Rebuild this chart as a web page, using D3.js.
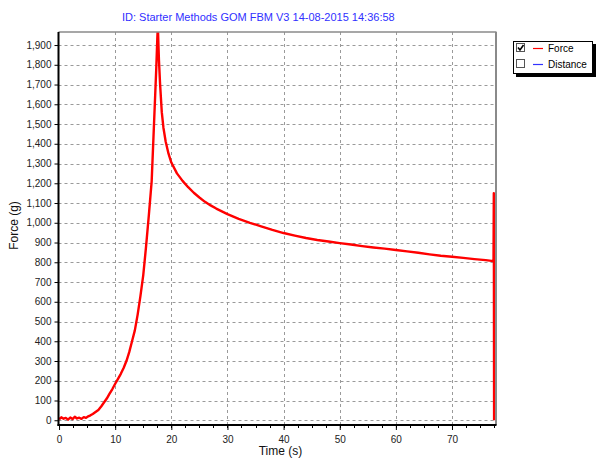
<!DOCTYPE html>
<html><head><meta charset="utf-8">
<script src="https://cdn.jsdelivr.net/npm/d3@7/dist/d3.min.js"></script>
<style>body{margin:0;background:#fff}svg{display:block;font-family:"Liberation Sans",Arial,sans-serif}</style>
</head><body><svg id="c" width="613" height="470"></svg>
<script>
const title = "ID: Starter Methods GOM FBM V3 14-08-2015 14:36:58";
const xLabel = "Time (s)";
const yLabel = "Force (g)";
const xTicks = [0,10,20,30,40,50,60,70];
const yTicks = [0,100,200,300,400,500,600,700,800,900,1000,1100,1200,1300,1400,1500,1600,1700,1800,1900];
const legendNames = ["Force","Distance"];
const legendColors = ["#ff0000","#3333ff"];
const legendChecked = [true,false];
const time = [0,0.4,0.8,1.2,1.6,2.0,2.4,2.8,3.2,3.6,4.0,4.4,4.8,5.2,5.6,6.0,6.5,7.0,7.5,8.0,8.5,9.0,9.5,10,10.5,11,11.5,12,12.5,13,13.5,14,14.5,15,15.5,16,16.5,17,17.3,17.5,17.6,17.7,17.8,18,18.3,18.6,19,19.5,20,21,22,23,24,25,26,27,28,30,32,34,36,38,40,42,44,46,48,50,52,54,56,58,60,62,64,66,68,70,72,74,76,77.4,77.45,77.5];
const force = [5,15,8,12,3,14,6,18,9,13,7,16,12,20,25,32,42,52,70,90,110,135,158,185,210,235,265,300,345,400,455,535,630,735,880,1040,1211,1560,1770,1930,2000,1904,1820,1701,1560,1480,1410,1350,1305,1250,1212,1180,1152,1128,1106,1088,1072,1044,1020,1000,982,964,948,935,923,913,905,897,890,882,875,869,862,855,848,840,833,828,822,816,811,806,1150,0];

const svg = d3.select("#c");
const L = 58.5, R = 495.5, T = 32, B = 425;
const x = d3.scaleLinear().domain([-0.1, 77.75]).range([L, R]);
const y = d3.scaleLinear().domain([-24, 1966]).range([B, T]);

// title
svg.append("text").attr("x",122).attr("y",21).attr("font-size",11).attr("fill","#3030ff").text(title);

// grid
const g = svg.append("g");
g.selectAll("line.h").data(yTicks).join("line")
  .attr("x1",L).attr("x2",R).attr("y1",d=>Math.round(y(d))+0.5).attr("y2",d=>Math.round(y(d))+0.5)
  .attr("stroke","#9a9a9a").attr("stroke-dasharray","3,3");
g.selectAll("line.v").data(xTicks.filter(d=>d>0)).join("line")
  .attr("y1",T).attr("y2",B).attr("x1",d=>Math.round(x(d))+0.5).attr("x2",d=>Math.round(x(d))+0.5)
  .attr("stroke","#9a9a9a").attr("stroke-dasharray","3,3");

// clip + line
svg.append("clipPath").attr("id","clp").append("rect").attr("x",L).attr("y",T).attr("width",R-L).attr("height",B-T);
const data = time.map((t,i)=>[t,force[i]]);
svg.append("path").datum(data).attr("clip-path","url(#clp)")
  .attr("d", d3.line().x(d=>x(d[0])).y(d=>y(d[1])))
  .attr("fill","none").attr("stroke","#ff0000").attr("stroke-width",2.4).attr("stroke-linejoin","round");

// frame top/right
svg.append("line").attr("x1",L).attr("x2",R+1).attr("y1",T).attr("y2",T).attr("stroke","#8a8a8a").attr("stroke-width",1.5);
svg.append("line").attr("x1",R+0.5).attr("x2",R+0.5).attr("y1",T).attr("y2",B).attr("stroke","#8a8a8a").attr("stroke-width",2);

// axes
const yAxis = d3.axisLeft(y).tickValues(yTicks).tickSize(4).tickPadding(3).tickFormat(d3.format(","));
const ya = svg.append("g").attr("transform",`translate(${L},0)`).call(yAxis);
ya.select(".domain").remove();
const minor = d3.range(0, 77.6, 2.5);
svg.append("g").selectAll("line").data(minor).join("line")
  .attr("x1",d=>Math.round(x(d))+0.5).attr("x2",d=>Math.round(x(d))+0.5).attr("y1",B).attr("y2",B+3)
  .attr("stroke","#000");
const xAxis = d3.axisBottom(x).tickValues(xTicks).tickSize(5).tickPadding(6).tickFormat(d3.format("d"));
const xa = svg.append("g").attr("transform",`translate(0,${B})`).call(xAxis);
xa.select(".domain").remove();
[ya,xa].forEach(a=>{a.selectAll("text").attr("font-size",10).attr("fill","#222").attr("font-family","Liberation Sans, Arial, sans-serif");a.selectAll(".tick line").attr("stroke","#000");});
svg.append("line").attr("x1",L).attr("x2",L).attr("y1",T).attr("y2",B+1).attr("stroke","#000").attr("stroke-width",2);
svg.append("line").attr("x1",L-1).attr("x2",R+1).attr("y1",B).attr("y2",B).attr("stroke","#000").attr("stroke-width",2);

// axis titles
svg.append("text").attr("x",280.5).attr("y",455).attr("text-anchor","middle").attr("font-size",12).attr("fill","#111").text(xLabel);
svg.append("text").attr("transform","translate(18,225.5) rotate(-90)").attr("text-anchor","middle").attr("font-size",12).attr("fill","#111").text(yLabel);

// legend
const lg = svg.append("g");
lg.append("rect").attr("x",516).attr("y",44).attr("width",80).attr("height",33).attr("fill","#000");
lg.append("rect").attr("x",513.5).attr("y",41.5).attr("width",79).attr("height",32).attr("fill","#fff").attr("stroke","#000");
legendNames.forEach((n,i)=>{
  const cy = 48 + i*16;
  lg.append("rect").attr("x",516.5).attr("y",cy-4.5).attr("width",8).attr("height",8).attr("fill","#fff").attr("stroke","#555");
  if(legendChecked[i]) lg.append("path").attr("d",`M${518},${cy-0.5} L${520},${cy+2} L${523.5},${cy-3}`).attr("fill","none").attr("stroke","#000").attr("stroke-width",1.6);
  lg.append("line").attr("x1",533).attr("x2",543).attr("y1",cy+0.5).attr("y2",cy+0.5).attr("stroke",legendColors[i]).attr("stroke-width",1.2);
  lg.append("text").attr("x",548).attr("y",cy+3.5).attr("font-size",10).attr("fill","#000").text(n);
});
</script></body></html>
